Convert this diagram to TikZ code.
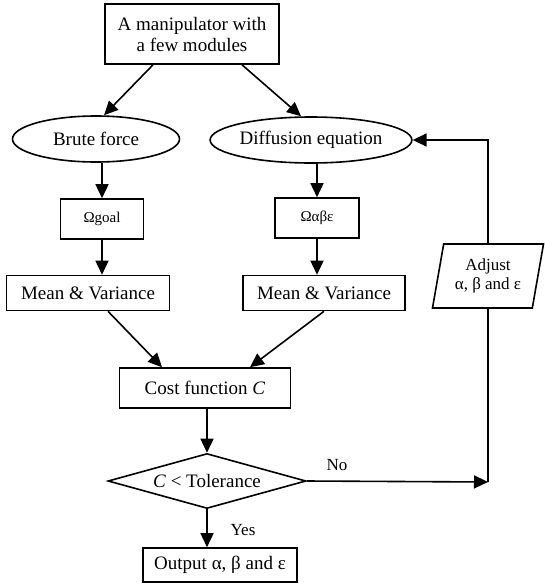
\documentclass[tikz,border=0pt]{standalone}
\usepackage{fontspec}
\setmainfont{Liberation Serif}
\usetikzlibrary{shapes.geometric,arrows.meta}
\begin{document}
\begin{tikzpicture}[x=1pt,y=-1pt,
  every node/.style={font=\fontsize{19}{21}\selectfont, inner sep=0pt},
  box/.style={draw, rectangle, line width=1.6pt},
  oval/.style={draw, ellipse, line width=1.6pt},
  smallbox/.style={draw, rectangle, line width=1.6pt, font=\fontsize{15}{17}\selectfont},
  para/.style={draw, line width=1.6pt, trapezium, trapezium left angle=72, trapezium right angle=108,
    trapezium stretches body, font=\fontsize{17}{19}\selectfont, align=center},
  dec/.style={draw, line width=1.6pt, diamond, shape aspect=3.6},
  lbl/.style={font=\fontsize{17}{19}\selectfont},
  line/.style={line width=1.6pt},
  arr/.style={line width=1.6pt, -{Triangle[length=14pt,width=13pt]}}]
\useasboundingbox[fill=white] (0,0) rectangle (545,584);

\node[box, minimum width=174, minimum height=60, align=center] (top) at (192,34)
  {A manipulator with\\a few modules};
\node[oval, minimum width=167, minimum height=46] (brute) at (96,139) {Brute force};
\node[oval, minimum width=172, minimum height=46] (diff) at (311,140) {Diffusion equation};
\node[smallbox, minimum width=83, minimum height=40] (og) at (102,219) {Ωgoal};
\node[smallbox, minimum width=84, minimum height=40] (oa) at (317,218) {Ωαβε};
\node[box, minimum width=163, minimum height=35] (mv1) at (88,293) {Mean \& Variance};
\node[box, minimum width=162, minimum height=35] (mv2) at (324,293) {Mean \& Variance};
\node[para, minimum width=111, minimum height=64] (adj) at (488,276)
  {Adjust\\α, β and ε};
\node[box, minimum width=171, minimum height=40] (cost) at (205,388) {Cost function \textit{C}};
\node[dec, minimum width=198, minimum height=55] (tol) at (207,481) {\textit{C} < Tolerance};
\node[box, minimum width=154, minimum height=34] (out) at (220,565) {Output α, β and ε};
\node[lbl] (no) at (337,465) {No};
\node[lbl] (yes) at (243,530) {Yes};
\coordinate (fb) at (488,482);

\draw[arr] ([xshift=-39pt]top.south) -- ([xshift=8pt]brute.north);
\draw[arr] ([xshift=50pt]top.south) -- ([xshift=-10pt]diff.north);
\draw[arr] (og.north |- brute.south) -- (og.north);
\draw[arr] (oa.north |- diff.south) -- (oa.north);
\draw[arr] (og.south) -- (og.south |- mv1.north);
\draw[arr] (oa.south) -- (oa.south |- mv2.north);
\draw[arr] ([xshift=20pt]mv1.south) -- ([xshift=-43pt]cost.north);
\draw[arr] (mv2.south) -- ([xshift=45pt]cost.north);
\draw[arr] (tol.north |- cost.south) -- (tol.north);
\draw[arr] (tol.south) -- (tol.south |- out.north);
\draw[arr] (tol.east) -- (fb);
\draw[line] (fb) -- (adj.south);
\draw[arr] (adj.north) -- (adj.north |- diff.east) -- (diff.east);
\end{tikzpicture}
\end{document}
